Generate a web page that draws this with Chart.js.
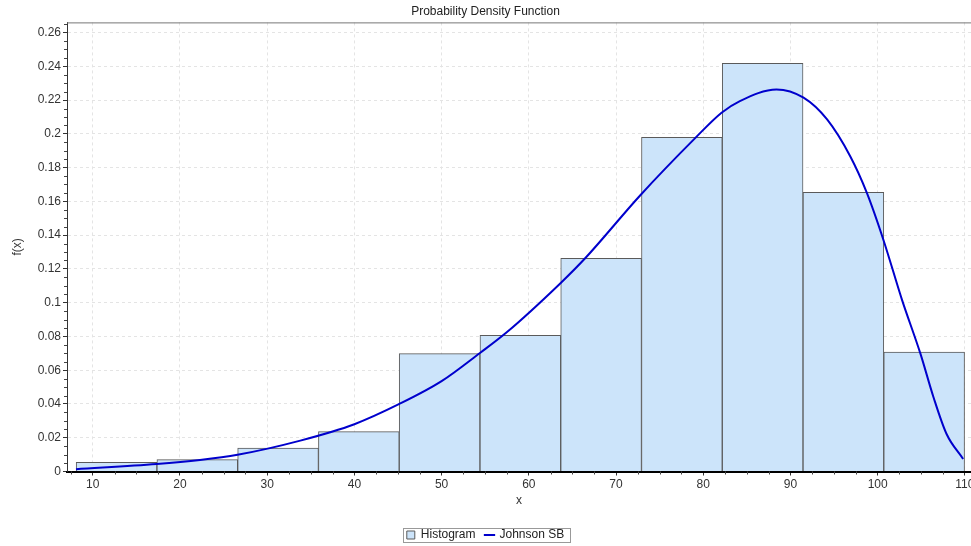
<!DOCTYPE html>
<html>
<head>
<meta charset="utf-8">
<script src="https://cdn.jsdelivr.net/npm/chart.js@4/dist/chart.umd.min.js"></script>
<style>
  html, body { margin: 0; padding: 0; background: #fff; }
  #wrap { width: 971px; height: 546px; }
</style>
</head>
<body>
<div id="wrap"><canvas id="pdf"></canvas></div>
<script>
// ── Histograma + curva Johnson SB ──

// bordes de las clases del histograma y su densidad
const binEdges = [8.1, 17.36, 26.62, 35.88, 45.14, 54.4, 63.66, 72.92, 82.18, 91.44, 100.7, 109.96];
const binHeights = [0.0054, 0.0070, 0.0139, 0.0236, 0.0698, 0.0807, 0.1263, 0.198, 0.2418, 0.1653, 0.0707];

const curveX = [8.08, 17.34, 22.3, 26.6, 33.8, 40, 45.16, 50, 54.4, 57.5, 63.6, 66.46, 72.76,
  79.1, 82.1, 84.2, 88.4, 91.5, 94.2, 96.85, 98.76, 100.67, 102.8, 104.9, 106.4, 107.9, 109.8];
const curveY = [0.0014, 0.0044, 0.0068, 0.0099, 0.0183, 0.028, 0.040, 0.0535, 0.0702, 0.0826, 0.1114, 0.1263, 0.1635,
  0.1976, 0.2125, 0.2194, 0.2263, 0.2214, 0.2085, 0.1867, 0.165, 0.137, 0.1015, 0.0698, 0.044, 0.0222, 0.0074];

const xTicks = [10, 20, 30, 40, 50, 60, 70, 80, 90, 100, 110];
const yTicks = [0, 0.02, 0.04, 0.06, 0.08, 0.1, 0.12, 0.14, 0.16, 0.18, 0.2, 0.22, 0.24, 0.26];

const histData = binHeights.map((h, i) => ({ x: (binEdges[i] + binEdges[i + 1]) / 2, y: h }));
const curveData = curveX.map((x, i) => ({ x: x, y: curveY[i] }));

Chart.defaults.font.family = '"Liberation Sans", Arial, sans-serif';
Chart.defaults.font.size = 12;
Chart.defaults.color = '#333';

// marcas menores en los ejes + marco superior + recuadro de la leyenda
const extras = {
  id: 'extras',
  afterDraw(chart) {
    const ctx = chart.ctx;
    const a = chart.chartArea;
    const xs = chart.scales.x, ys = chart.scales.y;
    ctx.save();
    ctx.strokeStyle = '#444';
    ctx.lineWidth = 1;
    ctx.beginPath();
    for (let v = 7.5; v <= 110.5; v += 2.5) {
      if (v % 10 === 0) continue;
      const px = Math.round(xs.getPixelForValue(v)) + 0.5;
      ctx.moveTo(px, a.bottom); ctx.lineTo(px, a.bottom + 3);
    }
    for (let k = 1; k <= 53; k++) {
      if (k % 4 === 0) continue;
      const py = Math.round(ys.getPixelForValue(k * 0.005)) + 0.5;
      if (py < a.top) break;
      ctx.moveTo(a.left - 3, py); ctx.lineTo(a.left, py);
    }
    ctx.stroke();
    // línea superior del área
    ctx.strokeStyle = '#777';
    ctx.beginPath();
    ctx.moveTo(a.left, a.top + 0.5); ctx.lineTo(a.right, a.top + 0.5);
    ctx.stroke();
    // recuadro de la leyenda
    const boxes = chart.legend.legendHitBoxes;
    if (boxes && boxes.length) {
      const l = Math.min(...boxes.map(b => b.left)) - 4;
      const r = Math.max(...boxes.map(b => b.left + b.width)) + 6;
      const t = Math.min(...boxes.map(b => b.top)) - 1;
      const bt = Math.max(...boxes.map(b => b.top + b.height)) + 1;
      ctx.strokeStyle = '#999';
      ctx.strokeRect(Math.round(l) + 0.5, Math.round(t) + 0.5, Math.round(r - l), Math.round(bt - t));
    }
    ctx.restore();
  }
};

new Chart(document.getElementById('pdf'), {
  type: 'bar',
  data: {
    datasets: [
      {
        type: 'bar',
        label: 'Histogram',
        data: histData,
        backgroundColor: '#cce4fa',
        borderColor: '#5a5a5a',
        borderWidth: 1,
        barPercentage: 1,
        categoryPercentage: 1,
        grouped: false,
        order: 2,
      },
      {
        type: 'line',
        label: 'Johnson SB',
        data: curveData,
        borderColor: '#0000cc',
        backgroundColor: '#0000cc',
        pointBorderColor: '#0000cc',
        borderWidth: 2,
        pointRadius: 0,
        pointBorderWidth: 2,
        cubicInterpolationMode: 'monotone',
        fill: false,
        order: 1,
      },
    ],
  },
  options: {
    responsive: true,
    maintainAspectRatio: false,
    animation: false,
    layout: { padding: { left: 0, right: 0, top: 0, bottom: -5 } },
    plugins: {
      title: {
        display: true,
        text: 'Probability Density Function',
        color: '#222',
        font: { size: 12, weight: 'normal' },
        padding: { top: 4, bottom: 4 },
      },
      legend: {
        position: 'bottom',
        labels: {
          color: '#222',
          usePointStyle: true,
          boxWidth: 8,
          boxHeight: 8,
          padding: 10,
          sort: (a, b) => a.datasetIndex - b.datasetIndex,
          generateLabels(chart) {
            const items = Chart.defaults.plugins.legend.labels.generateLabels(chart);
            items.forEach(it => {
              it.pointStyle = it.datasetIndex === 0 ? 'rect' : 'line';
              it.lineWidth = it.datasetIndex === 0 ? 1 : 2;
            });
            return items;
          },
        },
      },
      tooltip: { enabled: false },
    },
    scales: {
      x: {
        type: 'linear',
        offset: false,
        min: 7.05,
        max: 110.7,
        afterBuildTicks(s) { s.ticks = xTicks.map(v => ({ value: v })); },
        afterFit(s) { s.paddingLeft = 0; s.paddingRight = 0; s.height = 47.5; },
        ticks: { color: '#333', padding: 2, maxRotation: 0, autoSkip: false },
        grid: { offset: false, color: '#e4e4e4', tickLength: 4, tickColor: '#333' },
        border: { color: '#000', width: 2, dash: [3, 3] },
        title: { display: true, text: 'x', color: '#333', padding: { top: 0, bottom: 11.5 } },
      },
      y: {
        min: 0,
        max: 0.266,
        afterBuildTicks(s) { s.ticks = yTicks.map(v => ({ value: v })); },
        afterFit(s) { s.width = 67; },
        ticks: {
          color: '#333',
          padding: 2,
          callback: v => String(Number(v.toFixed(2))),
        },
        grid: { color: '#e4e4e4', tickLength: 4, tickColor: '#333' },
        border: { color: '#333', width: 1, dash: [3, 3] },
        title: { display: true, text: 'f(x)', color: '#333', padding: { top: 10, bottom: 4 } },
      },
    },
  },
  plugins: [extras],
});
</script>
</body>
</html>
